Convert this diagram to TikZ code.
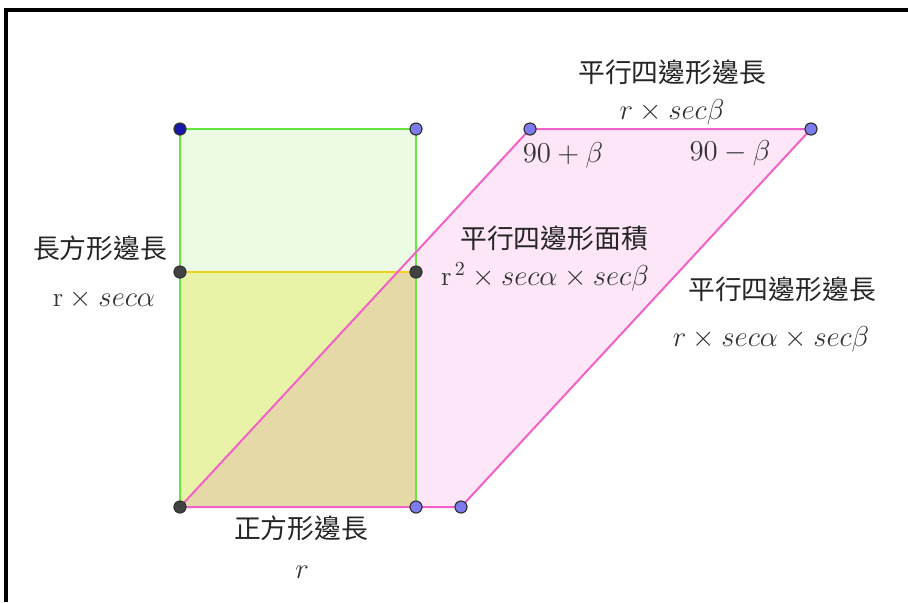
\documentclass[tikz,border=0pt]{standalone}
\usepackage{fontspec}
\newfontfamily\cjk{Noto Sans CJK TC}
\usetikzlibrary{positioning,calc}
\definecolor{zelena}{HTML}{66E640}
\definecolor{zelenaF}{HTML}{ECFCE4}
\definecolor{zluta}{HTML}{F0D020}
\definecolor{zlutaF}{HTML}{E9F3A8}
\definecolor{hneda}{HTML}{E6D9A8}
\definecolor{ruzova}{HTML}{F062C8}
\definecolor{ruzovaF}{HTML}{FDE6F7}
\definecolor{mix}{HTML}{F6F0EE}
\definecolor{modra}{HTML}{1818A8}
\definecolor{svmodra}{HTML}{7C7CF0}
\definecolor{seda}{HTML}{424242}
\tikzset{
  hrana/.style={line width=1pt},
  bod/.style={circle,draw=black!80,line width=0.6pt,inner sep=0pt,minimum size=6pt},
  cj/.style={font=\cjk\fontsize{13.4}{15}\selectfont,text=black!85,inner sep=1pt},
  vz/.style={font=\fontsize{13.6}{15}\selectfont,text=black!80,inner sep=1pt},
}

\begin{document}
\begin{tikzpicture}[x=0.5pt,y=-0.5pt]
  \useasboundingbox (0,0) rectangle (908,602);
  \draw[line width=1.6pt] (6,602) -- (6,10) -- (908,10);
  \coordinate (A) at (180,507); \coordinate (B) at (416,507);
  \coordinate (C) at (416,129); \coordinate (D) at (180,129);
  \coordinate (E) at (180,272); \coordinate (F) at (416,272);
  \coordinate (G) at (461,507); \coordinate (H) at (811,129);
  \coordinate (I) at (530,129);
  \fill[ruzovaF] (A) -- (G) -- (H) -- (I) -- cycle;
  \fill[zelenaF] (E) rectangle (C);
  \fill[zlutaF] (A) rectangle (F);
  \begin{scope}
    \clip (A) rectangle (F);
    \fill[hneda] (A) -- (G) -- (H) -- (I) -- cycle;
  \end{scope}
  \begin{scope}
    \clip (E) rectangle (C);
    \fill[mix] (A) -- (G) -- (H) -- (I) -- cycle;
  \end{scope}
  \draw[hrana,zelena] (A) -- (D) -- (C) -- (B);
  \draw[hrana,zluta] (E) -- (F);
  \draw[hrana,ruzova] (A) -- (G) -- (H) -- (I) -- cycle;
  \node[bod,fill=modra] (d) at (D) {};
  \node[bod,fill=svmodra] (c) at (C) {};
  \node[bod,fill=svmodra] (i) at (I) {};
  \node[bod,fill=svmodra] (h) at (H) {};
  \node[bod,fill=seda] (e) at (E) {};
  \node[bod,fill=seda] (f) at (F) {};
  \node[bod,fill=seda] (a) at (A) {};
  \node[bod,fill=svmodra] (b) at (B) {};
  \node[bod,fill=svmodra] (g) at (G) {};
  \node[cj] (pdelka) at (672,72) {平行四邊形邊長};
  \node[vz] (pdelkaV) at (672,112) {$r\times sec\beta$};
  \node[vz] (uhel1) at (563,155) {$90+\beta$};
  \node[vz] (uhel2) at (730,153) {$90-\beta$};
  \node[cj] (plocha) at (554,238) {平行四邊形面積};
  \node[vz] (plochaV) at (545,277) {$\mathrm{r}^{\,2}\times sec\alpha\times sec\beta$};
  \node[cj] (pdelka2) at (782,289) {平行四邊形邊長};
  \node[vz] (pdelka2V) at (771,339) {$r\times sec\alpha\times sec\beta$};
  \node[cj] (obdelnik) at (100,248) {長方形邊長};
  \node[vz] (obdelnikV) at (104,299) {$\mathrm{r}\times sec\alpha$};
  \node[cj] (ctverec) at (301,528) {正方形邊長};
  \node[vz] (ctverecV) at (302,572) {$r$};
\end{tikzpicture}
\end{document}
